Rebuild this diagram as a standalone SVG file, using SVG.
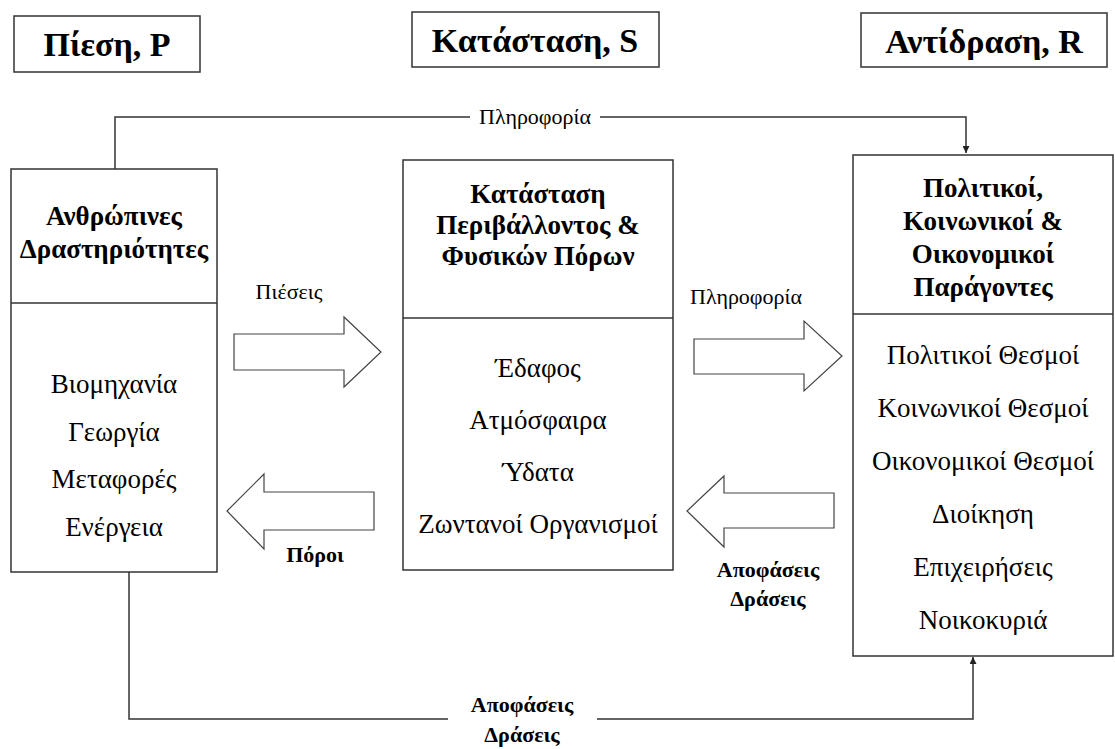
<svg xmlns="http://www.w3.org/2000/svg" width="1115" height="749" viewBox="0 0 1115 749">
<defs>
<style>
.box{fill:#fff;stroke:#333;stroke-width:1.5}
.ln{fill:none;stroke:#333;stroke-width:1.5}
.blk{fill:#fff;stroke:#444;stroke-width:1.2}
.t{font-family:'Liberation Serif','Times New Roman',serif;fill:#000;text-anchor:middle}
.title{font-size:34px;font-weight:bold}
.hd{font-size:27px;font-weight:bold}
.bd{font-size:27px}
.lb{font-size:22px}
.lbb{font-size:22px;font-weight:bold}
</style>
<marker id="ah" viewBox="0 0 10 10" refX="10" refY="5" markerWidth="7" markerHeight="7" markerUnits="userSpaceOnUse" orient="auto">
<path d="M0,0 L10,5 L0,10 Z" fill="#222"/>
</marker>
</defs>
<rect width="1115" height="749" fill="#fff"/>

<g id="title-P">
<rect class="box" x="14" y="16" width="186" height="56"/>
<text class="t title" x="107" y="56">Πίεση, P</text>
</g>
<g id="title-S">
<rect class="box" x="412" y="12" width="247" height="55"/>
<text class="t title" x="535" y="52">Κατάσταση, S</text>
</g>
<g id="title-R">
<rect class="box" x="861" y="13" width="246" height="54"/>
<text class="t title" x="984" y="53">Αντίδραση, R</text>
</g>

<g id="node-pressure">
<rect class="box" x="11" y="169" width="206" height="403"/>
<line class="ln" x1="11" y1="303" x2="217" y2="303"/>
<text class="t hd" x="114" y="225">Ανθρώπινες</text>
<text class="t hd" x="114" y="258">Δραστηριότητες</text>
<text class="t bd" x="114" y="393">Βιομηχανία</text>
<text class="t bd" x="114" y="441">Γεωργία</text>
<text class="t bd" x="114" y="488">Μεταφορές</text>
<text class="t bd" x="114" y="536">Ενέργεια</text>
</g>

<g id="node-state">
<rect class="box" x="403" y="160" width="270" height="410"/>
<line class="ln" x1="403" y1="318" x2="673" y2="318"/>
<text class="t hd" x="538" y="203">Κατάσταση</text>
<text class="t hd" x="538" y="234">Περιβάλλοντος &amp;</text>
<text class="t hd" x="538" y="265">Φυσικών Πόρων</text>
<text class="t bd" x="538" y="377">Έδαφος</text>
<text class="t bd" x="538" y="429">Ατμόσφαιρα</text>
<text class="t bd" x="538" y="481">Ύδατα</text>
<text class="t bd" x="538" y="533">Ζωντανοί Οργανισμοί</text>
</g>

<g id="node-response">
<rect class="box" x="853" y="155" width="260" height="501"/>
<line class="ln" x1="853" y1="314" x2="1113" y2="314"/>
<text class="t hd" x="983" y="197">Πολιτικοί,</text>
<text class="t hd" x="983" y="230">Κοινωνικοί &amp;</text>
<text class="t hd" x="983" y="263">Οικονομικοί</text>
<text class="t hd" x="983" y="296">Παράγοντες</text>
<text class="t bd" x="983" y="364">Πολιτικοί Θεσμοί</text>
<text class="t bd" x="983" y="417">Κοινωνικοί Θεσμοί</text>
<text class="t bd" x="983" y="470">Οικονομικοί Θεσμοί</text>
<text class="t bd" x="983" y="523">Διοίκηση</text>
<text class="t bd" x="983" y="576">Επιχειρήσεις</text>
<text class="t bd" x="983" y="629">Νοικοκυριά</text>
</g>

<g id="connectors">
<path class="ln" d="M115,169 V117 H470"/>
<path class="ln" d="M600,117 H966 V153" marker-end="url(#ah)"/>
<text class="t lb" x="535" y="124">Πληροφορία</text>

<path class="ln" d="M129,572 V719 H448"/>
<path class="ln" d="M597,719 H973 V657" marker-end="url(#ah)"/>
<text class="t lbb" x="522" y="712">Αποφάσεις</text>
<text class="t lbb" x="522" y="742">Δράσεις</text>

<path class="blk" d="M234,334 H344 V317 L381,352 L344,387 V370 H234 Z"/>
<text class="t lb" x="289" y="299">Πιέσεις</text>

<path class="blk" d="M694,339 H804 V321 L842,356 L804,391 V374 H694 Z"/>
<text class="t lb" x="746" y="304">Πληροφορία</text>

<path class="blk" d="M374,492 H264 V474 L227,511 L264,549 V530 H374 Z"/>
<text class="t lbb" x="315" y="562">Πόροι</text>

<path class="blk" d="M834,493 H724 V476 L687,511 L724,547 V528 H834 Z"/>
<text class="t lbb" x="768" y="577">Αποφάσεις</text>
<text class="t lbb" x="768" y="606">Δράσεις</text>
</g>
</svg>
